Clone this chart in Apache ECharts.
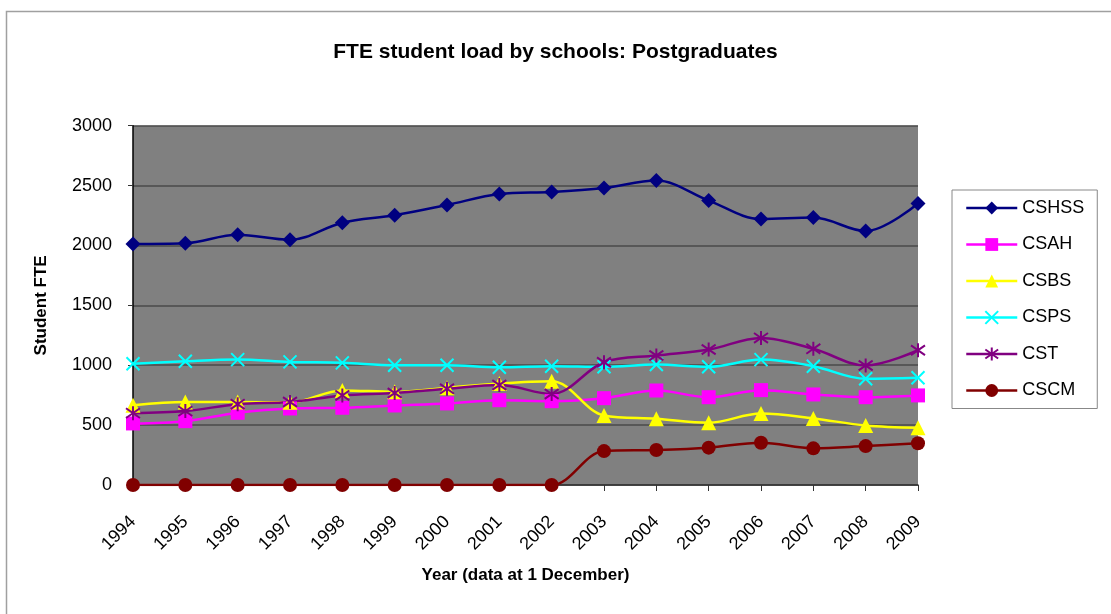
<!DOCTYPE html>
<html>
<head>
<meta charset="utf-8">
<script src="https://cdn.jsdelivr.net/npm/echarts@6/dist/echarts.min.js"></script>
<style>
html,body{margin:0;padding:0;background:#fff;}
#chart{width:1111px;height:614px;}
</style>
</head>
<body>
<div id="chart"></div>
<script>
const years = ['1994','1995','1996','1997','1998','1999','2000','2001','2002','2003','2004','2005','2006','2007','2008','2009'];
const CSHSS = [2012, 2018, 2089, 2047, 2190, 2252, 2338, 2430, 2447, 2480, 2542, 2375, 2220, 2233, 2120, 2350];
const CSAH  = [514, 533, 603, 639, 645, 664, 681, 708, 700, 725, 789, 733, 792, 756, 733, 748];
const CSBS  = [665, 692, 692, 690, 790, 778, 812, 848, 867, 581, 553, 520, 597, 556, 497, 478];
const CSPS  = [1012, 1033, 1047, 1028, 1020, 1000, 1000, 983, 992, 987, 1006, 987, 1047, 992, 887, 895];
const CST   = [600, 617, 675, 693, 748, 768, 803, 835, 760, 1025, 1081, 1131, 1228, 1137, 998, 1125];
const CSCM  = [0, 0, 0, 0, 0, 0, 0, 0, 0, 283, 292, 312, 353, 306, 325, 348];
const yTicks = [0, 500, 1000, 1500, 2000, 2500, 3000];

const FONT = 'Liberation Sans, Arial, sans-serif';
const crossPath = 'path://M0,0L10,10M10,0L0,10';
const starPath = 'path://M5,0L5,10M0,1.5L10,8.5M0,8.5L10,1.5';

function mk(name, data, color, symbol, size, stroke) {
  return {
    name: name, type: 'line', data: data, smooth: 0.35,
    symbol: symbol, symbolSize: size,
    lineStyle: { color: color, width: 2.5 },
    itemStyle: stroke ? { color: 'none', borderColor: color, borderWidth: 2 } : { color: color, borderColor: color, borderWidth: 0 },
    emphasis: { disabled: true }
  };
}

const chart = echarts.init(document.getElementById('chart'), null, { renderer: 'canvas' });
chart.setOption({
  animation: false,
  backgroundColor: '#ffffff',
  graphic: [{
    type: 'rect', left: 4, top: 9, shape: { x: 0, y: 0, width: 1200, height: 700 },
    style: { fill: 'none', stroke: '#a0a0a0', lineWidth: 1.5 }, silent: true
  }],
  title: {
    text: 'FTE student load by schools: Postgraduates',
    left: 'center', top: 37,
    textStyle: { fontFamily: FONT, fontSize: 21, fontWeight: 'bold', color: '#000' }
  },
  grid: { left: 133, right: 193, top: 125.7, bottom: 129, show: true, backgroundColor: '#808080', borderWidth: 0 },
  legend: {
    orient: 'vertical', left: 952, top: 190,
    padding: [8, 13, 8, 13], itemGap: 16.5, itemWidth: 51, itemHeight: 16,
    borderColor: '#888', borderWidth: 1, backgroundColor: '#fff',
    lineStyle: { width: 2.5 },
    textStyle: { fontFamily: FONT, fontSize: 18, color: '#000', lineHeight: 20 },
    data: ['CSHSS','CSAH','CSBS','CSPS','CST','CSCM']
  },
  xAxis: {
    type: 'category', data: years, boundaryGap: false,
    name: 'Year (data at 1 December)', nameLocation: 'middle', nameGap: 82,
    nameTextStyle: { fontFamily: FONT, fontSize: 17, fontWeight: 'bold', color: '#000' },
    axisLine: { show: true, lineStyle: { color: '#333', width: 1.5 } },
    axisTick: { show: true, inside: false, length: 6, interval: 0, lineStyle: { color: '#333' } },
    axisLabel: { rotate: 45, interval: 0, margin: 34, fontFamily: FONT, fontSize: 18, color: '#000' },
    splitLine: { show: false }
  },
  yAxis: {
    type: 'value', min: 0, max: 3000, interval: 500,
    name: 'Student FTE', nameLocation: 'middle', nameGap: 83,
    nameTextStyle: { fontFamily: FONT, fontSize: 17, fontWeight: 'bold', color: '#000' },
    axisLine: { show: true, lineStyle: { color: '#000', width: 1.5 } },
    axisTick: { show: true, inside: false, length: 5, lineStyle: { color: '#333' } },
    axisLabel: { margin: 21, fontFamily: FONT, fontSize: 18, color: '#000',
      formatter: function (v) { return yTicks.indexOf(v) >= 0 ? String(v) : ''; } },
    splitLine: { show: true, lineStyle: { color: '#4a4a4a', width: 1.5 } }
  },
  series: [
    mk('CSHSS', CSHSS, '#000080', 'diamond', 15, false),
    mk('CSAH', CSAH, '#FF00FF', 'rect', 14, false),
    mk('CSBS', CSBS, '#FFFF00', 'triangle', 15, false),
    mk('CSPS', CSPS, '#00FFFF', crossPath, 13, true),
    mk('CST', CST, '#800080', starPath, 14, true),
    mk('CSCM', CSCM, '#800000', 'circle', 14, false)
  ]
});
</script>
</body>
</html>
